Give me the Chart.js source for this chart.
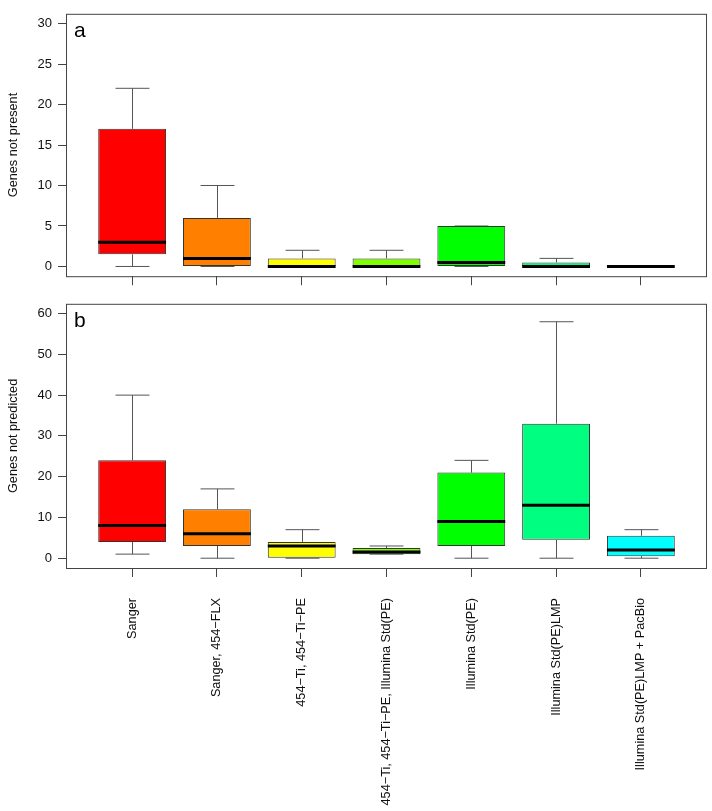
<!DOCTYPE html>
<html>
<head>
<meta charset="utf-8">
<script src="https://cdn.jsdelivr.net/npm/chart.js@4.4.1/dist/chart.umd.min.js"></script>
<style>
  html, body { margin: 0; padding: 0; background: #fff; }
  canvas { display: block; }
</style>
</head>
<body>
<canvas id="chartA" width="712" height="290"></canvas>
<canvas id="chartB" width="712" height="521"></canvas>
<script>
// Categories (sequencing strategies)
const categories = [
    "Sanger",
    "Sanger, 454\u2212FLX",
    "454\u2212Ti, 454\u2212Ti\u2212PE",
    "454\u2212Ti, 454\u2212Ti\u2212PE, Illumina Std(PE)",
    "Illumina Std(PE)",
    "Illumina Std(PE)LMP",
    "Illumina Std(PE)LMP + PacBio"
];
const boxColors = ["#FF0000", "#FF8000", "#FFFF00", "#80FF00", "#00FF00", "#00FF80", "#00FFFF"];

// Panel a: genes not present
const minA = [0, 0, 0, 0, 0, 0, 0];
const q1A  = [1.5, 0, 0, 0, 0, 0, 0];
const medA = [3, 1, 0, 0, 0.5, 0, 0];
const q3A  = [17, 6, 1, 1, 5, 0.5, 0];
const maxA = [22, 10, 2, 2, 5, 1, 0];
const yTicksA = [0, 5, 10, 15, 20, 25, 30];

// Panel b: genes not predicted
const minB = [1, 0, 0, 1, 0, 0, 0];
const q1B  = [4, 3, 0, 1, 3, 4.5, 0.5];
const medB = [8, 6, 3, 1.5, 9, 13, 2];
const q3B  = [24, 12, 4, 2.5, 21, 33, 5.5];
const maxB = [40, 17, 7, 3, 24, 58, 7];
const yTicksB = [0, 10, 20, 30, 40, 50, 60];

const xTicks = [1, 2, 3, 4, 5, 6, 7];
const axisColor = "#444";
const numFont = { family: "'Liberation Sans Narrow', 'Liberation Sans', Arial, sans-serif", size: 13 };
const textFont = { family: "'Liberation Sans', Arial, sans-serif", size: 12.7 };

// Whiskers, medians, frame and panel letter
const boxPlugin = {
    id: "boxes",
    beforeDatasetsDraw(chart, args, opts) {
        const ctx = chart.ctx;
        const xs = chart.scales.x, ys = chart.scales.y;
        const bars = chart.getDatasetMeta(0).data;
        ctx.save();
        ctx.strokeStyle = "#555";
        ctx.lineWidth = 1;
        opts.mins.forEach((mn, i) => {
            const x = Math.round(xs.getPixelForValue(i + 1)) + 0.5;
            const cap = bars[i].width / 4;
            const yMin = ys.getPixelForValue(mn), yMax = ys.getPixelForValue(opts.maxs[i]);
            const yQ1 = ys.getPixelForValue(opts.q1[i]), yQ3 = ys.getPixelForValue(opts.q3[i]);
            ctx.beginPath();
            ctx.moveTo(x, yQ3); ctx.lineTo(x, yMax);
            ctx.moveTo(x, yQ1); ctx.lineTo(x, yMin);
            ctx.moveTo(x - cap, yMax); ctx.lineTo(x + cap, yMax);
            ctx.moveTo(x - cap, yMin); ctx.lineTo(x + cap, yMin);
            ctx.stroke();
        });
        ctx.restore();
    },
    afterDatasetsDraw(chart, args, opts) {
        const ctx = chart.ctx;
        const xs = chart.scales.x, ys = chart.scales.y;
        const bars = chart.getDatasetMeta(0).data;
        const a = chart.chartArea;
        ctx.save();
        ctx.strokeStyle = "#000";
        ctx.lineWidth = 3;
        opts.meds.forEach((m, i) => {
            const x = xs.getPixelForValue(i + 1);
            const w = bars[i].width / 2;
            const y = ys.getPixelForValue(m);
            ctx.beginPath();
            ctx.moveTo(x - w, y); ctx.lineTo(x + w, y);
            ctx.stroke();
        });
        ctx.strokeStyle = axisColor;
        ctx.lineWidth = 1;
        ctx.strokeRect(a.left + 0.5, a.top + 0.5, a.right - a.left - 1, a.bottom - a.top);
        ctx.fillStyle = "#000";
        ctx.font = "21px 'Liberation Sans', Arial, sans-serif";
        ctx.textBaseline = "alphabetic";
        ctx.fillText(opts.letter, a.left + 8, a.top + 23);
        ctx.restore();
    }
};

function makeChart(id, cfg) {
    const data = categories.map((c, i) => ({ x: i + 1, y: [cfg.q1[i], cfg.q3[i]] }));
    return new Chart(document.getElementById(id), {
        type: "bar",
        data: {
            datasets: [{
                data: data,
                backgroundColor: boxColors,
                borderColor: "#333",
                borderWidth: 1,
                borderSkipped: false,
                barPercentage: 0.8,
                categoryPercentage: 1
            }]
        },
        plugins: [boxPlugin],
        options: {
            responsive: false,
            animation: false,
            layout: { padding: { left: 0, right: 5, top: cfg.padTop, bottom: 0 } },
            plugins: {
                legend: { display: false },
                tooltip: { enabled: false },
                boxes: { mins: cfg.mins, maxs: cfg.maxs, meds: cfg.meds, q1: cfg.q1, q3: cfg.q3, letter: cfg.letter }
            },
            scales: {
                x: {
                    type: "linear",
                    offset: false,
                    min: 0.22,
                    max: 7.78,
                    afterBuildTicks: s => { s.ticks = xTicks.map(v => ({ value: v })); },
                    afterFit: s => { s.height = cfg.xHeight; },
                    grid: { drawOnChartArea: false, drawTicks: true, tickLength: 9, color: axisColor, offset: false },
                    border: { display: false },
                    ticks: {
                        display: cfg.showLabels,
                        autoSkip: false,
                        minRotation: 90,
                        maxRotation: 90,
                        padding: 21,
                        color: "#111",
                        font: textFont,
                        callback: v => categories[v - 1]
                    }
                },
                y: {
                    min: cfg.yMin,
                    max: cfg.yMax,
                    afterBuildTicks: s => { s.ticks = cfg.yTicks.map(v => ({ value: v })); },
                    afterFit: s => { s.width = 66; },
                    grid: { drawOnChartArea: false, drawTicks: true, tickLength: 8, color: axisColor },
                    border: { display: false },
                    ticks: { padding: 6, color: "#111", font: numFont },
                    title: {
                        display: true,
                        text: cfg.title,
                        color: "#111",
                        font: textFont,
                        padding: { top: 6, bottom: 0 }
                    }
                }
            }
        }
    });
}

makeChart("chartA", {
    mins: minA, q1: q1A, meds: medA, q3: q3A, maxs: maxA,
    yMin: -1.2, yMax: 31.2, yTicks: yTicksA,
    title: "Genes not present", letter: "a",
    padTop: 8, xHeight: 11, showLabels: false
});

makeChart("chartB", {
    mins: minB, q1: q1B, meds: medB, q3: q3B, maxs: maxB,
    yMin: -2.4, yMax: 62.4, yTicks: yTicksB,
    title: "Genes not predicted", letter: "b",
    padTop: 7, xHeight: 243, showLabels: true
});
</script>
</body>
</html>
